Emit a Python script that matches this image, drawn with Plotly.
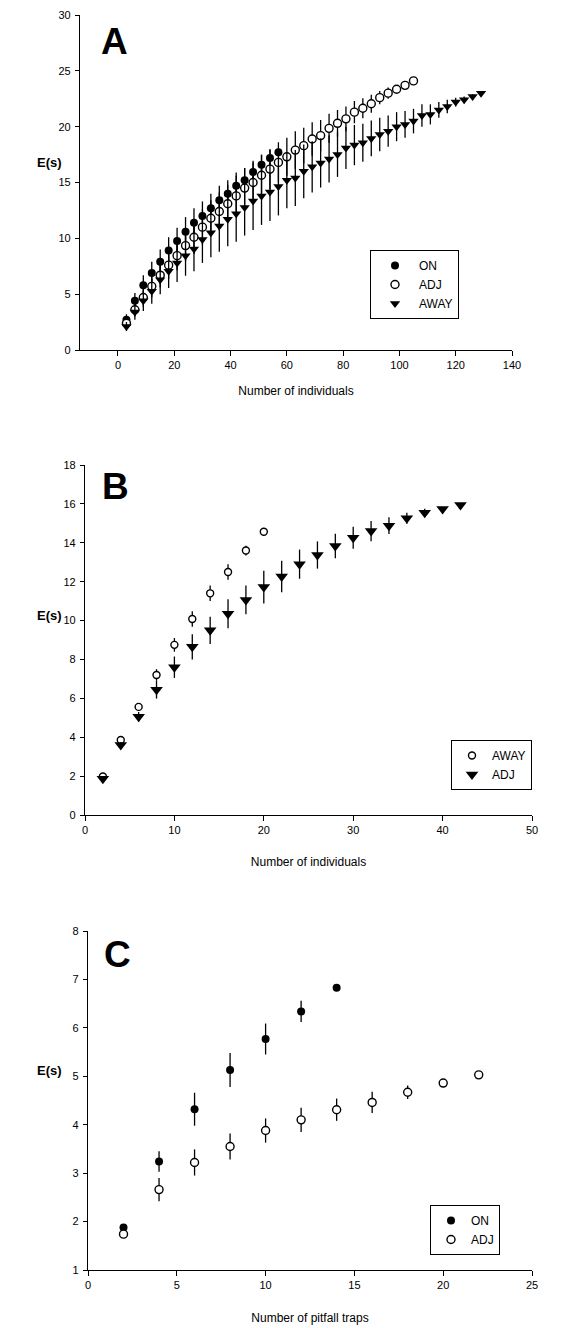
import plotly.graph_objects as go

# ---------------- Panel A data ----------------
a_on_x = [3, 6, 9, 12, 15, 18, 21, 24, 27, 30, 33, 36, 39, 42, 45, 48, 51, 54, 57]
a_on_y = [2.7, 4.4, 5.8, 6.9, 7.9, 8.9, 9.75, 10.6, 11.4, 12.0, 12.7, 13.4, 14.0, 14.7, 15.2, 15.95, 16.6, 17.2, 17.7]
a_on_sd = [0.5, 0.7, 0.9, 1.0, 1.1, 1.2, 1.2, 1.3, 1.3, 1.3, 1.3, 1.3, 1.2, 1.2, 1.1, 1.0, 0.9, 0.7, 0.4]

a_adj_x = list(range(3, 106, 3))
a_adj_y = [2.4, 3.6, 4.7, 5.7, 6.7, 7.6, 8.45, 9.35, 10.1, 11.0, 11.8, 12.4, 13.1, 13.8, 14.5, 15.0, 15.65,
           16.2, 16.8, 17.3, 17.9, 18.3, 18.9, 19.2, 19.85, 20.3, 20.7, 21.3, 21.65, 22.05, 22.6, 23.0,
           23.35, 23.7, 24.1]
a_adj_sd = [0.4, 0.6, 0.8, 1.0, 1.1, 1.2, 1.3, 1.4, 1.5, 1.6, 1.6, 1.7, 1.7, 1.8, 1.8, 1.8, 1.8, 1.8,
            1.8, 1.7, 1.7, 1.6, 1.5, 1.4, 1.3, 1.2, 1.1, 1.0, 0.9, 0.8, 0.6, 0.5, 0.3, 0.2, 0.0]

a_away_x = list(range(3, 130, 3))
a_away_y = [2.1, 3.4, 4.4, 5.25, 6.3, 7.05, 7.8, 8.45, 9.05, 9.9, 10.5, 11.1, 11.7, 12.2, 12.75, 13.35,
            13.8, 14.15, 14.65, 15.2, 15.4, 16.0, 16.4, 16.75, 17.1, 17.5, 18.1, 18.35, 18.55, 18.95,
            19.3, 19.6, 20.0, 20.2, 20.5, 21.0, 21.1, 21.5, 21.8, 22.2, 22.4, 22.7, 23.0]
a_away_sd = [0.4, 0.7, 0.9, 1.1, 1.3, 1.5, 1.7, 1.8, 2.0, 2.1, 2.2, 2.3, 2.4, 2.5, 2.5, 2.6, 2.6, 2.6,
             2.6, 2.5, 2.5, 2.4, 2.3, 2.2, 2.1, 2.0, 1.9, 1.8, 1.7, 1.6, 1.5, 1.4, 1.3, 1.2, 1.1, 1.0,
             0.9, 0.7, 0.6, 0.4, 0.3, 0.2, 0.0]

# ---------------- Panel B data ----------------
b_away_x = [2, 4, 6, 8, 10, 12, 14, 16, 18, 20]
b_away_y = [1.98, 3.86, 5.56, 7.2, 8.75, 10.08, 11.4, 12.5, 13.6, 14.57]
b_away_sd = [0.05, 0.1, 0.15, 0.3, 0.35, 0.4, 0.4, 0.4, 0.25, 0.0]

b_adj_x = list(range(2, 43, 2))
b_adj_y = [1.86, 3.6, 5.05, 6.44, 7.6, 8.65, 9.5, 10.35, 11.06, 11.72, 12.26, 12.9, 13.37, 13.84,
           14.26, 14.6, 14.88, 15.26, 15.55, 15.74, 15.94]
b_adj_sd = [0.05, 0.15, 0.25, 0.45, 0.55, 0.65, 0.7, 0.75, 0.74, 0.84, 0.81, 0.75, 0.7, 0.63, 0.57,
            0.52, 0.43, 0.28, 0.2, 0.05, 0.0]

# ---------------- Panel C data ----------------
c_on_x = [2, 4, 6, 8, 10, 12, 14]
c_on_y = [1.88, 3.24, 4.32, 5.13, 5.77, 6.34, 6.83]
c_on_sd = [0.05, 0.21, 0.34, 0.35, 0.32, 0.22, 0.0]

c_adj_x = [2, 4, 6, 8, 10, 12, 14, 16, 18, 20, 22]
c_adj_y = [1.74, 2.66, 3.22, 3.55, 3.88, 4.1, 4.31, 4.46, 4.67, 4.86, 5.03]
c_adj_sd = [0.03, 0.24, 0.27, 0.27, 0.25, 0.25, 0.23, 0.22, 0.14, 0.03, 0.0]

W, H = 579, 1328
FONT = "Liberation Sans, Arial, sans-serif"


def px_x(p):
    return p / W


def px_y(p):
    return 1 - p / H


fig = go.Figure()


def eb(arr):
    return dict(type="data", array=arr, color="black", thickness=1.3, width=0)


filled = dict(symbol="circle", size=8, color="black")
opened = dict(symbol="circle", size=8, color="white", line=dict(color="black", width=1.4))
tri = dict(symbol="triangle-down", size=9, color="black")

# Panel A
fig.add_trace(go.Scatter(x=a_on_x, y=a_on_y, error_y=eb(a_on_sd), mode="markers", marker=filled,
                         name="ON", xaxis="x", yaxis="y", legend="legend"))
fig.add_trace(go.Scatter(x=a_adj_x, y=a_adj_y, error_y=eb(a_adj_sd), mode="markers", marker=opened,
                         name="ADJ", xaxis="x", yaxis="y", legend="legend"))
fig.add_trace(go.Scatter(x=a_away_x, y=a_away_y, error_y=eb(a_away_sd), mode="markers", marker=tri,
                         name="AWAY", xaxis="x", yaxis="y", legend="legend"))
# Panel B
fig.add_trace(go.Scatter(x=b_away_x, y=b_away_y, error_y=eb(b_away_sd), mode="markers",
                         marker=dict(opened, size=7), name="AWAY", xaxis="x2", yaxis="y2", legend="legend2"))
fig.add_trace(go.Scatter(x=b_adj_x, y=b_adj_y, error_y=eb(b_adj_sd), mode="markers",
                         marker=dict(tri, size=11), name="ADJ", xaxis="x2", yaxis="y2", legend="legend2"))
# Panel C
fig.add_trace(go.Scatter(x=c_on_x, y=c_on_y, error_y=eb(c_on_sd), mode="markers", marker=filled,
                         name="ON", xaxis="x3", yaxis="y3", legend="legend3"))
fig.add_trace(go.Scatter(x=c_adj_x, y=c_adj_y, error_y=eb(c_adj_sd), mode="markers", marker=opened,
                         name="ADJ", xaxis="x3", yaxis="y3", legend="legend3"))

axis_common = dict(showline=True, linecolor="black", linewidth=1.2, ticks="outside", ticklen=5,
                   tickcolor="black", tickwidth=1, showgrid=False, zeroline=False, automargin=False,
                   tickfont=dict(family=FONT, size=11, color="black"))
xax = dict(axis_common, ticklabelstandoff=0)
yax = dict(axis_common, ticklen=4, ticklabelstandoff=2)

title_font = dict(family=FONT, size=12, color="black")

fig.update_layout(
    width=W, height=H, plot_bgcolor="white", paper_bgcolor="white",
    margin=dict(l=0, r=0, t=0, b=0, autoexpand=False), showlegend=True,
    font=dict(family=FONT, color="black"),
    xaxis=dict(xax, domain=[px_x(80), px_x(512)], range=[-13.5, 140], tickvals=[0, 20, 40, 60, 80, 100, 120, 140],
               anchor="y", title=dict(text="Number of individuals", font=title_font, standoff=16)),
    yaxis=dict(yax, domain=[px_y(350), px_y(15)], range=[0, 30], tickvals=[0, 5, 10, 15, 20, 25, 30],
               anchor="x"),
    xaxis2=dict(xax, domain=[px_x(85), px_x(532)], range=[0, 50], tickvals=[0, 10, 20, 30, 40, 50],
                anchor="y2", title=dict(text="Number of individuals", font=title_font, standoff=22)),
    yaxis2=dict(yax, domain=[px_y(815), px_y(465)], range=[0, 18], tickvals=list(range(0, 19, 2)),
                anchor="x2"),
    xaxis3=dict(xax, domain=[px_x(88), px_x(532)], range=[0, 25], tickvals=[0, 5, 10, 15, 20, 25],
                anchor="y3", title=dict(text="Number of pitfall traps", font=title_font, standoff=23)),
    yaxis3=dict(yax, domain=[px_y(1270), px_y(931)], range=[1, 8], tickvals=list(range(1, 9)),
                anchor="x3"),
)

leg_common = dict(bordercolor="black", borderwidth=1, bgcolor="white",
                  font=dict(family=FONT, size=12, color="black"), yanchor="top",
                  tracegroupgap=0)
fig.update_layout(
    legend=dict(leg_common, x=px_x(370), y=px_y(250), xanchor="left", itemwidth=38),
    legend2=dict(leg_common, x=px_x(532), y=px_y(740), xanchor="right", itemwidth=30),
    legend3=dict(leg_common, x=px_x(430), y=px_y(1205), xanchor="left", itemwidth=30),
)

# Panel letters and E(s) labels
for letter, xp, yp in [("A", 99, 19), ("B", 100, 464), ("C", 102, 932)]:
    fig.add_annotation(text=f"<b>{letter}</b>", x=px_x(xp), y=px_y(yp), xref="paper", yref="paper",
                       xanchor="left", yanchor="top", showarrow=False,
                       font=dict(family=FONT, size=37, color="black"))
for yp in [163, 615, 1070]:
    fig.add_annotation(text="<b>E(s)</b>", x=px_x(49), y=px_y(yp), xref="paper", yref="paper",
                       xanchor="center", yanchor="middle", showarrow=False,
                       font=dict(family=FONT, size=13, color="black"))

fig.write_html("out.html", config={"displayModeBar": False},
               post_script="document.body.style.margin='0px';")
